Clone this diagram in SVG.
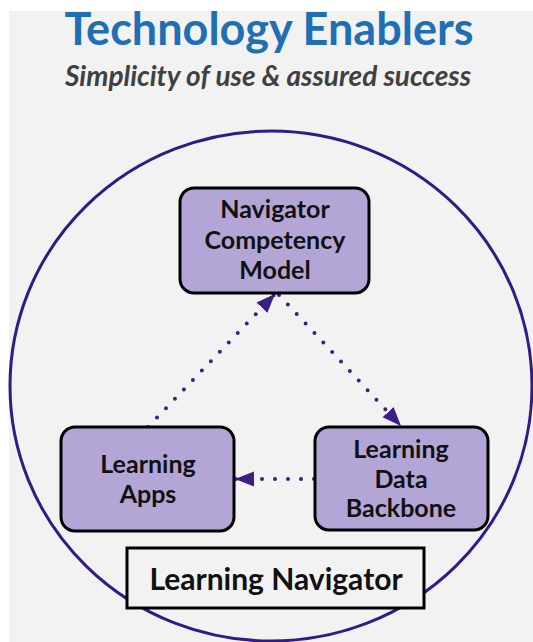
<svg xmlns="http://www.w3.org/2000/svg" width="533" height="642" viewBox="0 0 533 642">
  <style>
    .node rect { fill: #b3a6d6; stroke: #000; stroke-width: 3; }
    .lbl { font-family: Lato, "Open Sans", sans-serif; font-weight: bold; font-size: 25px; fill: #111; text-anchor: middle; }
    .conn { fill: none; stroke: #3b1f85; stroke-width: 4; stroke-linecap: round; stroke-dasharray: 0 13; }
  </style>
  <defs>
    <marker id="arr" markerUnits="userSpaceOnUse" markerWidth="20" markerHeight="16" refX="19" refY="7.5" orient="auto">
      <path d="M0,0 L19,7.5 L0,15 z" fill="#3b1f85"/>
    </marker>
  </defs>
  <rect x="0" y="0" width="533" height="642" fill="#ffffff"/>
  <rect x="9" y="11" width="524" height="631" fill="#f2f2f2"/>
  <text x="269" y="45" font-family="Lato, 'Open Sans', sans-serif" font-weight="bold" font-size="45" fill="#1f6fb5" text-anchor="middle">Technology Enablers</text>
  <text x="268" y="86" font-family="Lato, 'Open Sans', sans-serif" font-weight="bold" font-style="italic" font-size="28" fill="#404040" text-anchor="middle">Simplicity of use &amp; assured success</text>
  <ellipse id="circle" cx="271" cy="386" rx="261" ry="255" fill="none" stroke="#341a85" stroke-width="3"/>
  <g id="connectors">
    <line class="conn" x1="148" y1="427" x2="275" y2="294" marker-end="url(#arr)"/>
    <line class="conn" x1="279" y1="295" x2="401" y2="426" marker-end="url(#arr)"/>
    <line class="conn" x1="314" y1="479" x2="235" y2="479" marker-end="url(#arr)"/>
  </g>
  <g id="model" class="node">
    <rect x="180" y="188" width="189" height="105" rx="14"/>
    <text class="lbl" x="275" y="218">Navigator</text>
    <text class="lbl" x="275" y="249">Competency</text>
    <text class="lbl" x="275" y="279">Model</text>
  </g>
  <g id="apps" class="node">
    <rect x="61" y="427" width="173" height="104" rx="14"/>
    <text class="lbl" x="148" y="473">Learning</text>
    <text class="lbl" x="148" y="503">Apps</text>
  </g>
  <g id="backbone" class="node">
    <rect x="315" y="427" width="173" height="103" rx="14"/>
    <text class="lbl" x="401" y="458">Learning</text>
    <text class="lbl" x="401" y="488">Data</text>
    <text class="lbl" x="401" y="517">Backbone</text>
  </g>
  <g id="navigator">
    <rect x="127" y="548" width="297" height="60" fill="#f2f2f2" stroke="#000" stroke-width="3"/>
    <text class="lbl" x="276" y="590" style="font-size:30px">Learning Navigator</text>
  </g>
</svg>
